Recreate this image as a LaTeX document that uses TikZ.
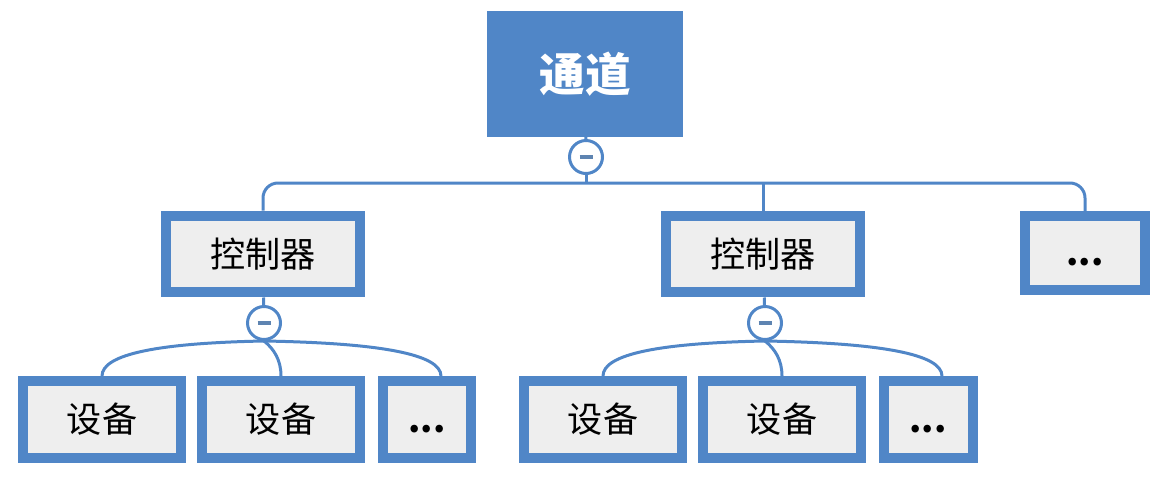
\documentclass[tikz,border=0pt]{standalone}
\usepackage{fontspec}
\setmainfont{Noto Sans CJK SC}
\usepackage{tikz}
\definecolor{mapblue}{RGB}{80,134,199}
\definecolor{boxgray}{RGB}{238,238,238}
\tikzset{
  conn/.style={draw=mapblue, line width=0.06cm},
  topbox/.style={fill=mapblue, draw=mapblue, minimum width=3.9cm, minimum height=2.5cm, text=white, font=\fontsize{26}{30}\selectfont\bfseries},
  itembox/.style={fill=boxgray, draw=mapblue, line width=0.2cm, minimum height=1.54cm, font=\fontsize{20}{24}\selectfont},
  knob/.style={circle, fill=white, draw=mapblue, line width=0.06cm, minimum size=0.66cm, inner sep=0pt,
    path picture={\draw[mapblue!70!gray, line width=0.08cm] ([xshift=-0.13cm]path picture bounding box.center) -- ([xshift=0.13cm]path picture bounding box.center);}}
}
\newcommand{\moredots}{\vphantom{设}\textbf{...}}

\begin{document}
\begin{tikzpicture}[x=0.02cm, y=-0.02cm]
        \useasboundingbox (0,0) rectangle (1163,477);

        % Channel and its knob
        \node[topbox] (chan) at (585,74) {通道};
        \node[knob] (c0) at (586,157) {};
        \coordinate (bus) at (586,183);

        % Row 2: controllers
        \node[itembox, minimum width=3.9cm] (ctl1) at (263,254) {控制器};
        \node[itembox, minimum width=3.9cm] (ctl2) at (763,254) {控制器};
        \node[itembox, minimum width=2.4cm, minimum height=1.48cm] (more) at (1085,253) {\moredots};

        \draw[conn] (chan) -- (c0);
        \draw[conn] (c0) -- (bus);
        \draw[conn, rounded corners=0.3cm] (ctl1.north) |- (bus) -| (more.north);
        \draw[conn] (ctl2.north) -- (ctl2.north |- bus);

        % Row 3: devices under each controller
        \foreach \g/\x in {1/264, 2/765} {
            \node[knob] (c\g) at (\x,323) {};
            \draw[conn] (ctl\g) -- (c\g);
            \node[itembox, minimum width=3.18cm] (dev\g a) at (\x-162,419.5) {设备};
            \node[itembox, minimum width=3.18cm] (dev\g b) at (\x+17,419.5) {设备};
            \node[itembox, minimum width=1.78cm] (dev\g c) at (\x+163,419.5) {\moredots};
            \draw[conn] (c\g.south) .. controls +(-105,2) and +(0,-22) .. (dev\g a.north);
            \draw[conn] (c\g.south) .. controls +(10,8) and +(0,-16) .. (dev\g b.north);
            \draw[conn] (c\g.south) .. controls +(115,2) and +(0,-22) .. ([xshift=0.28cm]dev\g c.north);
        }
    \end{tikzpicture}
\end{document}
